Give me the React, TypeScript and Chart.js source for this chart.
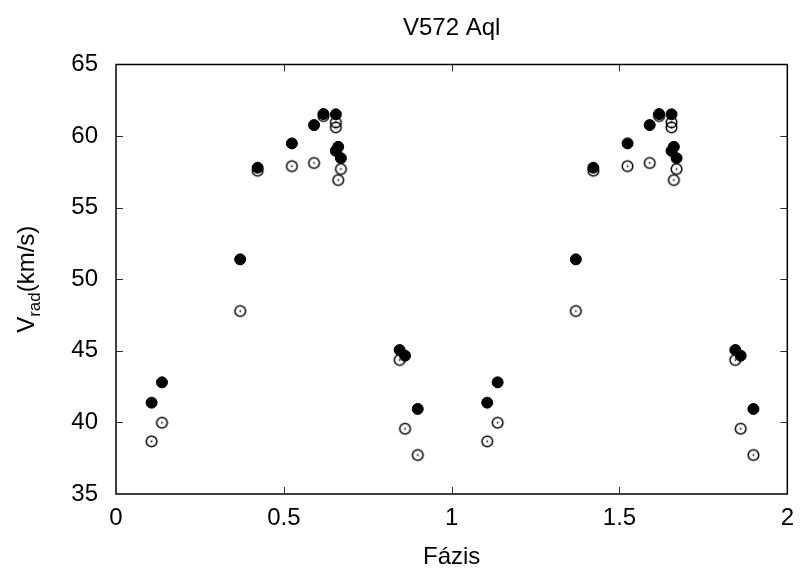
import React, { useEffect, useRef } from "react";
import { Chart, registerables } from "chart.js";

Chart.register(...registerables);

// Phase values (two cycles shown)
const phaseFilled: number[] = [
  0.106, 0.137, 0.370, 0.422, 0.524, 0.590, 0.618, 0.655, 0.655, 0.662, 0.670, 0.845, 0.861, 0.899,
  1.106, 1.137, 1.370, 1.422, 1.524, 1.590, 1.618, 1.655, 1.655, 1.662, 1.670, 1.845, 1.861, 1.899,
];
const vFilled: number[] = [
  41.38, 42.80, 51.39, 57.79, 59.49, 60.77, 61.54, 61.52, 58.97, 59.25, 58.46, 45.06, 44.66, 40.94,
  41.38, 42.80, 51.39, 57.79, 59.49, 60.77, 61.54, 61.52, 58.97, 59.25, 58.46, 45.06, 44.66, 40.94,
];
const phaseOpen: number[] = [
  0.106, 0.137, 0.370, 0.422, 0.524, 0.590, 0.618, 0.655, 0.655, 0.662, 0.670, 0.845, 0.861, 0.899,
  1.106, 1.137, 1.370, 1.422, 1.524, 1.590, 1.618, 1.655, 1.655, 1.662, 1.670, 1.845, 1.861, 1.899,
];
const vOpen: number[] = [
  38.68, 39.98, 47.78, 57.58, 57.90, 58.12, 61.40, 60.96, 60.61, 56.93, 57.70, 44.36, 39.56, 37.72,
  38.68, 39.98, 47.78, 57.58, 57.90, 58.12, 61.40, 60.96, 60.61, 56.93, 57.70, 44.36, 39.56, 37.72,
];

const xTicks: number[] = [0, 0.5, 1, 1.5, 2];
const yTicks: number[] = [35, 40, 45, 50, 55, 60, 65];

const TITLE = "V572 Aql";
const X_TITLE = "Fázis";
const FONT = "'Liberation Sans', Arial, Helvetica, sans-serif";

function makeOpenPoint(): HTMLCanvasElement {
  const c = document.createElement("canvas");
  c.width = 15;
  c.height = 15;
  const g = c.getContext("2d")!;
  g.strokeStyle = "#000";
  g.lineWidth = 1.5;
  g.beginPath();
  g.arc(7.5, 7.5, 5.3, 0, Math.PI * 2);
  g.stroke();
  g.fillStyle = "#000";
  g.beginPath();
  g.arc(7.5, 7.5, 0.9, 0, Math.PI * 2);
  g.fill();
  return c;
}

const framePlugin = {
  id: "frameAndLabels",
  afterDraw(chart: any) {
    const { ctx, chartArea } = chart;
    const { left, right, top, bottom } = chartArea;
    const xs = chart.scales.x;
    const ys = chart.scales.y;
    ctx.save();
    // inward ticks
    ctx.strokeStyle = "#333";
    ctx.lineWidth = 1;
    const tl = 7;
    xTicks.slice(1, -1).forEach((v) => {
      const px = Math.round(xs.getPixelForValue(v)) + 0.5;
      ctx.beginPath();
      ctx.moveTo(px, bottom);
      ctx.lineTo(px, bottom - tl);
      ctx.moveTo(px, top);
      ctx.lineTo(px, top + tl);
      ctx.stroke();
    });
    yTicks.slice(1, -1).forEach((v) => {
      const py = Math.round(ys.getPixelForValue(v)) + 0.5;
      ctx.beginPath();
      ctx.moveTo(left, py);
      ctx.lineTo(left + tl, py);
      ctx.moveTo(right, py);
      ctx.lineTo(right - tl, py);
      ctx.stroke();
    });
    // frame
    ctx.strokeStyle = "#000";
    ctx.lineWidth = 1.5;
    ctx.strokeRect(left, top, right - left, bottom - top);

    // titles
    ctx.fillStyle = "#000";
    ctx.font = `24px ${FONT}`;
    ctx.textAlign = "center";
    ctx.textBaseline = "alphabetic";
    const cx = (left + right) / 2;
    ctx.fillText(TITLE, cx, 35);
    ctx.fillText(X_TITLE, cx, 564);

    // y title with subscript
    const cy = (top + bottom) / 2;
    ctx.translate(33.5, cy);
    ctx.rotate(-Math.PI / 2);
    ctx.textAlign = "left";
    const big = `24px ${FONT}`;
    const small = `17px ${FONT}`;
    ctx.font = big;
    const wV = ctx.measureText("V").width;
    const wP = ctx.measureText("(km/s)").width;
    ctx.font = small;
    const wS = ctx.measureText("rad").width;
    const total = wV + wS + wP;
    let x0 = -total / 2;
    ctx.font = big;
    ctx.fillText("V", x0, 0);
    x0 += wV;
    ctx.font = small;
    ctx.fillText("rad", x0, 6.5);
    x0 += wS;
    ctx.font = big;
    ctx.fillText("(km/s)", x0, 0);
    ctx.restore();
  },
};

export default function App() {
  const ref = useRef<HTMLCanvasElement | null>(null);
  useEffect(() => {
    if (!ref.current) return;
    const openImg = makeOpenPoint();
    const chart = new Chart(ref.current, {
      type: "scatter",
      data: {
        datasets: [
          {
            label: "filled",
            data: phaseFilled.map((p, i) => ({ x: p, y: vFilled[i] })),
            pointStyle: "circle",
            pointRadius: 5.5,
            pointBorderWidth: 1,
            backgroundColor: "#000",
            borderColor: "#000",
            order: 0,
          },
          {
            label: "open",
            data: phaseOpen.map((p, i) => ({ x: p, y: vOpen[i] })),
            pointStyle: openImg as any,
            pointRadius: 6,
            backgroundColor: "rgba(0,0,0,0)",
            borderColor: "#000",
            order: 1,
          },
        ],
      },
      options: {
        animation: false,
        responsive: true,
        maintainAspectRatio: false,
        layout: { padding: { left: 0, right: 14, top: 64.5, bottom: 0 } },
        plugins: {
          legend: { display: false },
          tooltip: { enabled: false },
          title: { display: false },
        },
        scales: {
          x: {
            type: "linear",
            min: 0,
            max: 2,
            afterBuildTicks: (s: any) => {
              s.ticks = xTicks.map((v) => ({ value: v }));
            },
            ticks: {
              color: "#000",
              font: { family: FONT, size: 24 },
              padding: 10,
              maxRotation: 0,
              autoSkip: false,
              callback: (v: any) => String(Number(v)),
            },
            grid: { display: false, drawTicks: false },
            border: { display: false },
            afterFit: (s: any) => {
              s.height = 79;
            },
          },
          y: {
            type: "linear",
            min: 35,
            max: 65,
            afterBuildTicks: (s: any) => {
              s.ticks = yTicks.map((v) => ({ value: v }));
            },
            ticks: {
              color: "#000",
              font: { family: FONT, size: 24 },
              padding: 18,
              autoSkip: false,
              callback: (v: any) => String(Number(v)),
            },
            grid: { display: false, drawTicks: false },
            border: { display: false },
            afterFit: (s: any) => {
              s.width = 116;
            },
          },
        },
      },
      plugins: [framePlugin],
    });
    return () => chart.destroy();
  }, []);
  return (
    <div style={{ position: "fixed", left: 0, top: 0, width: 804, height: 573, background: "#fff" }}>
      <canvas ref={ref} />
    </div>
  );
}
